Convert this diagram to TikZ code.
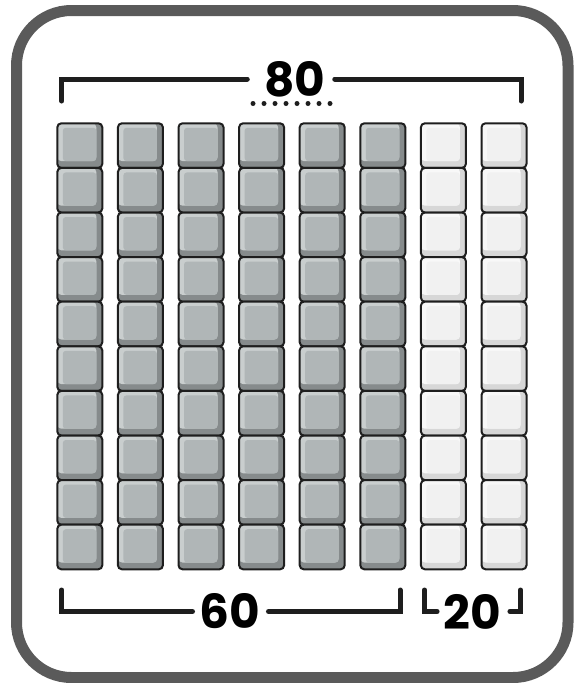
\documentclass[tikz,border=0pt]{standalone}
\usepackage{fontspec}
\setmainfont{Poppins}
\usetikzlibrary{positioning}
\definecolor{tilegray}{HTML}{B0B6B7}
\definecolor{tilegrayhi}{HTML}{C9CECE}
\definecolor{tilegraylo}{HTML}{868B8C}
\definecolor{tilewhite}{HTML}{F1F1F1}
\definecolor{tilewhitehi}{HTML}{F8F8F8}
\definecolor{tilewhitelo}{HTML}{D7D7D7}
\definecolor{framegray}{HTML}{5A5A5A}
\definecolor{inkblack}{HTML}{1E1E1E}

% one unit block: x, y, main, highlight, shadow
\newcommand{\drawtile}[5]{%
  \fill[#5, rounded corners=4] (#1,#2) rectangle ++(45,44.6);
  \fill[#4, rounded corners=4] (#1,#2) rectangle ++(39,37.8);
  \fill[#3, rounded corners=3] (#1+5.5,#2+4.5) rectangle (#1+39,#2+37.8);
  \draw[inkblack, line width=2, rounded corners=4] (#1,#2) rectangle ++(45,44.6);
}

\tikzset{
  numlabel/.style={font=\fontsize{47}{47}\selectfont\bfseries, text=black, inner sep=0pt},
  bracket/.style={inkblack, line width=5, line cap=round},
}

\begin{document}
\begin{tikzpicture}[x=1pt, y=-1pt]
  \useasboundingbox (0,0) rectangle (582,683);
  \draw[framegray, line width=11, rounded corners=55] (16.5,10.5) rectangle (568,677.5);

  % blocks: six gray tens, two white tens
  \foreach \c in {0,...,5}
    \foreach \r in {0,...,9}
      \drawtile{57.3+60.6*\c}{123.3+44.6*\r}{tilegray}{tilegrayhi}{tilegraylo};
  \foreach \c in {6,7}
    \foreach \r in {0,...,9}
      \drawtile{57.3+60.6*\c}{123.3+44.6*\r}{tilewhite}{tilewhitehi}{tilewhitelo};

  % top bracket
  \node[numlabel] (n80) at (295,79) {80};
  \coordinate (tl) at (61.7,101);
  \coordinate (tr) at (521,101);
  \draw[bracket] (tl) |- ([xshift=-17]n80.west);
  \draw[bracket] ([xshift=9]n80.east) -| (tr);
  \foreach \k in {0,...,7}
    \fill[inkblack] (253+11*\k,103.5) circle (2.5);

  % bottom brackets
  \node[numlabel] (n60) at (230,611.5) {60};
  \node[numlabel] (n20) at (472,611.5) {20};
  \coordinate (bl) at (61.7,590);
  \coordinate (br) at (400,590);
  \coordinate (l20) at (424.5,590);
  \coordinate (r20) at (520.5,590);
  \draw[bracket] (bl) |- ([xshift=-7]n60.west);
  \draw[bracket] ([xshift=8]n60.east) -| (br);
  \draw[bracket] (l20) |- ([xshift=-6]n20.west);
  \draw[bracket] ([xshift=9]n20.east) -| (r20);
\end{tikzpicture}
\end{document}
